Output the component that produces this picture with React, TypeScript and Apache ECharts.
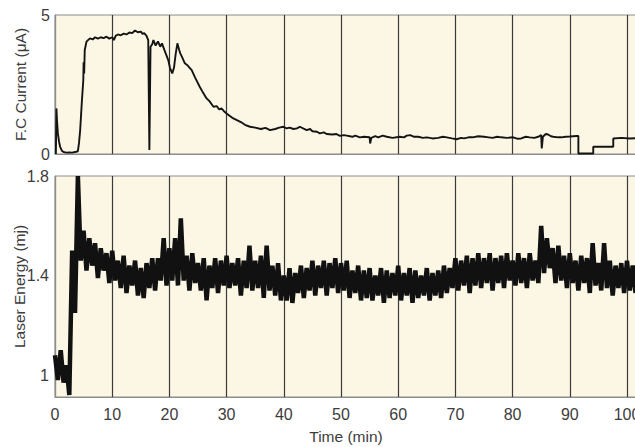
import { useEffect, useRef } from "react";
import * as echarts from "echarts";

// x axis ticks (min)
const timeTicks = [0, 10, 20, 30, 40, 50, 60, 70, 80, 90, 100];
const currentTicks = [0, 5];
const energyTicks = [1, 1.4, 1.8];

// F.C current trace: [time (min), current (µA)]
const fcTrace: [number, number][] = [
  [0.15, 0.0], [0.25, 1.64], [0.35, 1.2], [0.5, 0.75], [0.7, 0.45], [0.9, 0.26], [1.2, 0.12], [1.5, 0.07],
  [2, 0.05], [2.5, 0.06], [3, 0.05], [3.5, 0.07], [4.0, 0.1], [4.2, 0.4], [4.4, 0.86], [4.7, 1.9],
  [4.95, 2.66], [5.0, 3.3], [5.1, 2.9], [5.2, 3.74], [5.5, 4.04], [6.1, 4.16], [6.6, 4.12], [7.0, 4.2],
  [7.5, 4.15], [8, 4.2], [8.5, 4.17], [9, 4.22], [9.5, 4.15], [10, 4.2], [10.3, 4.1], [10.6, 4.25],
  [11, 4.3], [11.5, 4.27], [12, 4.33], [12.5, 4.3], [13, 4.37], [13.5, 4.35], [14, 4.44], [14.5, 4.38],
  [15, 4.4], [15.3, 4.32], [15.6, 4.35], [16, 4.25], [16.3, 4.1], [16.5, 0.14], [16.7, 3.86], [17.0, 3.95],
  [17.2, 4.1], [17.6, 3.9], [18.0, 4.05], [18.4, 3.86], [18.7, 3.98], [19.2, 3.7], [19.8, 3.38], [20.1, 3.1],
  [20.5, 2.9], [20.8, 3.1], [21.1, 3.6], [21.4, 3.98], [21.7, 3.75], [21.9, 3.62], [22.3, 3.45], [22.7, 3.26],
  [23.2, 3.18], [23.9, 3.02], [24.5, 2.75], [25.3, 2.42], [25.9, 2.2], [26.5, 2.0], [27.0, 1.9], [27.7, 1.7],
  [28.3, 1.72], [28.7, 1.6], [29.1, 1.64], [29.5, 1.55], [30.0, 1.46], [30.5, 1.38], [31.0, 1.3], [31.8, 1.22],
  [32.5, 1.15], [33.2, 1.05], [34.1, 0.98], [35, 0.95], [36, 0.9], [36.8, 0.94], [37.6, 0.86], [38.5, 0.9],
  [39.2, 0.95], [39.9, 0.98], [40.5, 0.92], [41, 0.95], [41.7, 0.9], [42.3, 0.92], [42.8, 0.98], [44, 0.86],
  [44.6, 0.9], [45, 0.82], [45.8, 0.8], [46.3, 0.74], [47, 0.78], [47.5, 0.72], [48.5, 0.7], [49.2, 0.72],
  [49.8, 0.65], [50.5, 0.68], [51, 0.66], [52, 0.62], [52.5, 0.66], [53.3, 0.6], [54, 0.62], [55, 0.6],
  [55.1, 0.38], [55.3, 0.58], [56, 0.64], [56.5, 0.6], [57.3, 0.66], [58, 0.62], [59, 0.58], [60.3, 0.62],
  [61, 0.6], [61.5, 0.66], [62.1, 0.68], [62.8, 0.62], [63.5, 0.62], [64.3, 0.58], [65, 0.6], [66, 0.56],
  [67, 0.58], [67.8, 0.62], [68.5, 0.6], [69.4, 0.56], [70.2, 0.53], [71, 0.58], [71.5, 0.56], [72.3, 0.6],
  [73, 0.6], [74, 0.64], [75, 0.62], [75.8, 0.6], [76.5, 0.58], [77.3, 0.62], [78, 0.6], [79, 0.58],
  [80.1, 0.6], [80.8, 0.55], [81.5, 0.56], [82.3, 0.62], [83, 0.6], [83.8, 0.58], [84.5, 0.62], [85, 0.68],
  [85.1, 0.2], [85.3, 0.62], [85.8, 0.72], [86.2, 0.7], [86.7, 0.64], [87.1, 0.62], [88, 0.6], [88.5, 0.6],
  [89.3, 0.62], [90, 0.63], [91.2, 0.65], [91.5, 0.65], [91.5, 0.02], [94.1, 0.02], [94.1, 0.26], [97.6, 0.26],
  [97.6, 0.56], [99, 0.58], [100.5, 0.56], [101.8, 0.57],
];

// Laser energy (mJ), sampled every 0.5 min from t = 0
const energyStart = 0;
const energyStep = 0.5;
const energyValues = [
  1.08, 0.98, 1.10, 0.97, 1.04, 0.92, 1.50, 1.25, 1.80, 1.46,
  1.58, 1.42, 1.55, 1.44, 1.53, 1.39, 1.51, 1.42, 1.49, 1.37,
  1.50, 1.38, 1.46, 1.35, 1.48, 1.33, 1.44, 1.36, 1.46, 1.32,
  1.43, 1.31, 1.45, 1.35, 1.47, 1.34, 1.47, 1.38, 1.55, 1.36,
  1.51, 1.38, 1.55, 1.36, 1.63, 1.38, 1.48, 1.34, 1.49, 1.37,
  1.45, 1.34, 1.47, 1.30, 1.44, 1.35, 1.47, 1.33, 1.46, 1.36,
  1.48, 1.35, 1.45, 1.36, 1.47, 1.32, 1.46, 1.35, 1.52, 1.34,
  1.46, 1.35, 1.48, 1.31, 1.52, 1.34, 1.44, 1.32, 1.45, 1.30,
  1.40, 1.30, 1.43, 1.29, 1.41, 1.33, 1.44, 1.31, 1.43, 1.34,
  1.46, 1.32, 1.44, 1.35, 1.46, 1.32, 1.45, 1.35, 1.47, 1.33,
  1.45, 1.34, 1.46, 1.31, 1.42, 1.33, 1.44, 1.30, 1.42, 1.31,
  1.43, 1.30, 1.40, 1.32, 1.43, 1.29, 1.42, 1.31, 1.41, 1.32,
  1.44, 1.30, 1.41, 1.32, 1.43, 1.29, 1.42, 1.31, 1.40, 1.32,
  1.43, 1.30, 1.41, 1.32, 1.42, 1.31, 1.44, 1.33, 1.43, 1.35,
  1.47, 1.34, 1.46, 1.36, 1.48, 1.33, 1.47, 1.36, 1.49, 1.35,
  1.47, 1.37, 1.49, 1.34, 1.47, 1.37, 1.48, 1.35, 1.49, 1.38,
  1.46, 1.36, 1.49, 1.37, 1.47, 1.35, 1.49, 1.38, 1.46, 1.37,
  1.60, 1.41, 1.55, 1.43, 1.51, 1.37, 1.52, 1.38, 1.48, 1.35,
  1.49, 1.37, 1.46, 1.34, 1.48, 1.37, 1.47, 1.33, 1.53, 1.36,
  1.45, 1.34, 1.53, 1.35, 1.46, 1.32, 1.44, 1.35, 1.45, 1.33,
  1.46, 1.34, 1.44, 1.33,
];

const FONT = "'Liberation Sans', Arial, Helvetica, sans-serif";
const TEXT = "#3c3c3c";
const BG = "#fcf7e4";
const FRAME = "#8c8c8c";
const GRIDV = "#3a3a3a";

export default function App() {
  const ref = useRef<HTMLDivElement>(null);
  useEffect(() => {
    const chart = echarts.init(ref.current!, null, { renderer: "svg" });
    const xMax = 101.75;
    const labelFmt = (v: number) => (timeTicks.includes(v) ? String(v) : "");
    const xBase = (gridIndex: number, showLabels: boolean) => ({
      type: "value",
      gridIndex,
      min: 0,
      max: xMax,
      interval: 10,
      axisLine: { show: true, lineStyle: { color: FRAME, width: 1 } },
      axisTick: { show: false },
      splitLine: { show: true, lineStyle: { color: GRIDV, width: 1.2 } },
      axisLabel: showLabels
        ? { show: true, formatter: labelFmt, color: TEXT, fontSize: 16, fontFamily: FONT, margin: 9, showMaxLabel: false }
        : { show: false },
      name: showLabels ? "Time (min)" : "",
      nameLocation: "middle",
      nameGap: 31,
      nameTextStyle: { color: TEXT, fontSize: 15.5, fontFamily: FONT },
    });
    chart.setOption({
      animation: false,
      backgroundColor: "#ffffff",
      textStyle: { fontFamily: FONT },
      grid: [
        { left: 55, right: -2, top: 15, height: 139, show: true, backgroundColor: BG, borderColor: FRAME, borderWidth: 1, containLabel: false, outerBoundsMode: "none" },
        { left: 55, right: -2, top: 176, height: 221, show: true, backgroundColor: BG, borderColor: FRAME, borderWidth: 1, containLabel: false, outerBoundsMode: "none" },
      ],
      xAxis: [xBase(0, false), xBase(1, true)],
      yAxis: [
        {
          type: "value",
          gridIndex: 0,
          min: 0,
          max: 5,
          interval: 5,
          axisLine: { show: true, lineStyle: { color: FRAME } },
          axisTick: { show: false },
          splitLine: { show: false },
          axisLabel: { color: TEXT, fontSize: 16, fontFamily: FONT, margin: 5, customValues: currentTicks },
          name: "F.C Current (\u03bcA)",
          nameLocation: "middle",
          nameGap: 27,
          nameMoveOverlap: false,
          nameTextStyle: { color: TEXT, fontSize: 15.5, fontFamily: FONT },
        },
        {
          type: "value",
          gridIndex: 1,
          min: 0.912,
          max: 1.8,
          axisLine: { show: true, lineStyle: { color: FRAME } },
          axisTick: { show: false },
          splitLine: { show: false },
          axisLabel: { color: TEXT, fontSize: 16, fontFamily: FONT, margin: 6, customValues: energyTicks },
          name: "Laser Energy (mj)",
          nameLocation: "middle",
          nameGap: 28,
          nameMoveOverlap: false,
          nameTextStyle: { color: TEXT, fontSize: 15.5, fontFamily: FONT },
        },
      ],
      series: [
        {
          type: "line",
          xAxisIndex: 0,
          yAxisIndex: 0,
          data: fcTrace,
          showSymbol: false,
          lineStyle: { color: "#141414", width: 1.9 },
          z: 5,
        },
        {
          type: "line",
          xAxisIndex: 1,
          yAxisIndex: 1,
          data: energyValues.map((v, i) => [energyStart + i * energyStep, v]),
          showSymbol: false,
          lineStyle: { color: "#111111", width: 4.5 },
          z: 5,
        },
      ],
    });
    return () => chart.dispose();
  }, []);
  return (
    <div
      ref={ref}
      style={{ position: "fixed", left: 0, top: 0, width: 635, height: 447, background: "#fff" }}
    />
  );
}
